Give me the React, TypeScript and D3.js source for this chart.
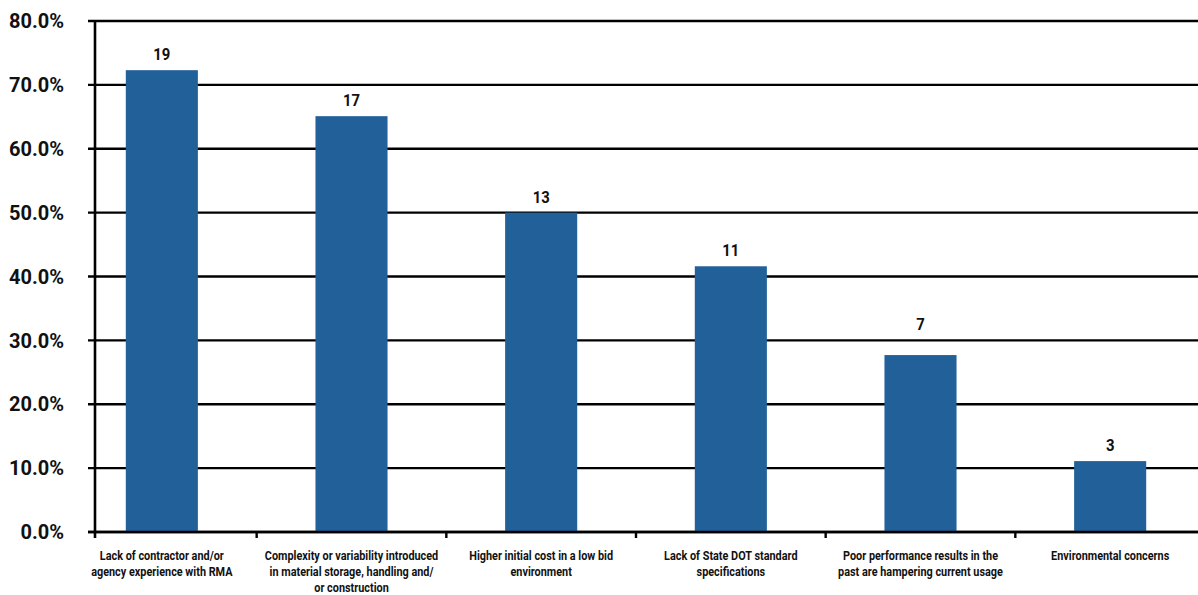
import React from "react";
import * as d3 from "d3";

const categories: string[][] = [
  ["Lack of contractor and/or", "agency experience with RMA"],
  ["Complexity or variability introduced", "in material storage, handling and/", "or construction"],
  ["Higher initial cost in a low bid", "environment"],
  ["Lack of State DOT standard", "specifications"],
  ["Poor performance results in the", "past are hampering current usage"],
  ["Environmental concerns"],
];
const percents = [72.3, 65.1, 50.0, 41.6, 27.7, 11.1];
const counts = [19, 17, 13, 11, 7, 3];
const yTicks = [0, 10, 20, 30, 40, 50, 60, 70, 80];

const W = 1198;
const H = 595;
const BAR = "#22609A";
const FONT = "Roboto, 'Noto Sans', sans-serif";

export default function App() {
  const ids = categories.map((_, i) => String(i));
  const x = d3.scaleBand<string>().domain(ids).range([67, 1205]).padding(0);
  const y = d3.scaleLinear().domain([0, 80]).range([532, 21]);
  const bw = x.bandwidth();
  const barW = bw * 0.38;
  const axisX = 95;

  const labelY = (v: number) => {
    const top = y(v);
    let c = top - 16;
    // avoid overlapping a gridline that sits between the label and the bar top
    yTicks.forEach((t) => {
      const g = y(t);
      if (g < top - 2 && g > c - 10) c = Math.min(c, g - 16);
    });
    return c;
  };

  return (
    <svg
      width={W}
      height={H}
      style={{ position: "absolute", left: 0, top: 0, background: "#fff" }}
      fontFamily={FONT}
    >
      {yTicks.map((t) => (
        <line key={"g" + t} x1={88} x2={W} y1={y(t)} y2={y(t)} stroke="#000" strokeWidth={2.4} />
      ))}
      {percents.map((v, i) => {
        const cx = (x(ids[i]) as number) + bw / 2;
        return (
          <g key={"b" + i}>
            <rect x={cx - barW / 2} y={y(v)} width={barW} height={y(0) - y(v)} fill={BAR} />
            <text
              x={cx}
              y={labelY(v)}
              dy="0.36em"
              textAnchor="middle"
              fontSize={16.5}
              fontWeight="bold"
              fill="#111"
              transform={`translate(${cx},0) scale(0.9,1) translate(${-cx},0)`}
            >
              {counts[i]}
            </text>
          </g>
        );
      })}
      <line x1={axisX} x2={axisX} y1={y(80) - 1} y2={y(0) + 6} stroke="#000" strokeWidth={2.6} />
      <line x1={88} x2={W} y1={y(0)} y2={y(0)} stroke="#000" strokeWidth={2.6} />
      {ids.slice(1).map((id) => (
        <line key={"t" + id} x1={x(id)} x2={x(id)} y1={y(0)} y2={y(0) + 6} stroke="#000" strokeWidth={2.4} />
      ))}
      {yTicks.map((t) => (
        <text
          key={"yl" + t}
          x={64}
          y={y(t)}
          dy="0.36em"
          textAnchor="end"
          fontSize={20}
          fontWeight="bold"
          fill="#111"
        >
          {t.toFixed(1) + "%"}
        </text>
      ))}
      {categories.map((lines, i) => {
        const cx = (x(ids[i]) as number) + bw / 2;
        return (
          <g key={"c" + i} transform={`translate(${cx},0) scale(0.87,1)`}>
            {lines.map((ln, j) => (
              <text
                key={j}
                x={0}
                y={556 + j * 16}
                dy="0.35em"
                textAnchor="middle"
                fontSize={12.5}
                fontWeight="bold"
                fill="#111"
              >
                {ln}
              </text>
            ))}
          </g>
        );
      })}
    </svg>
  );
}
